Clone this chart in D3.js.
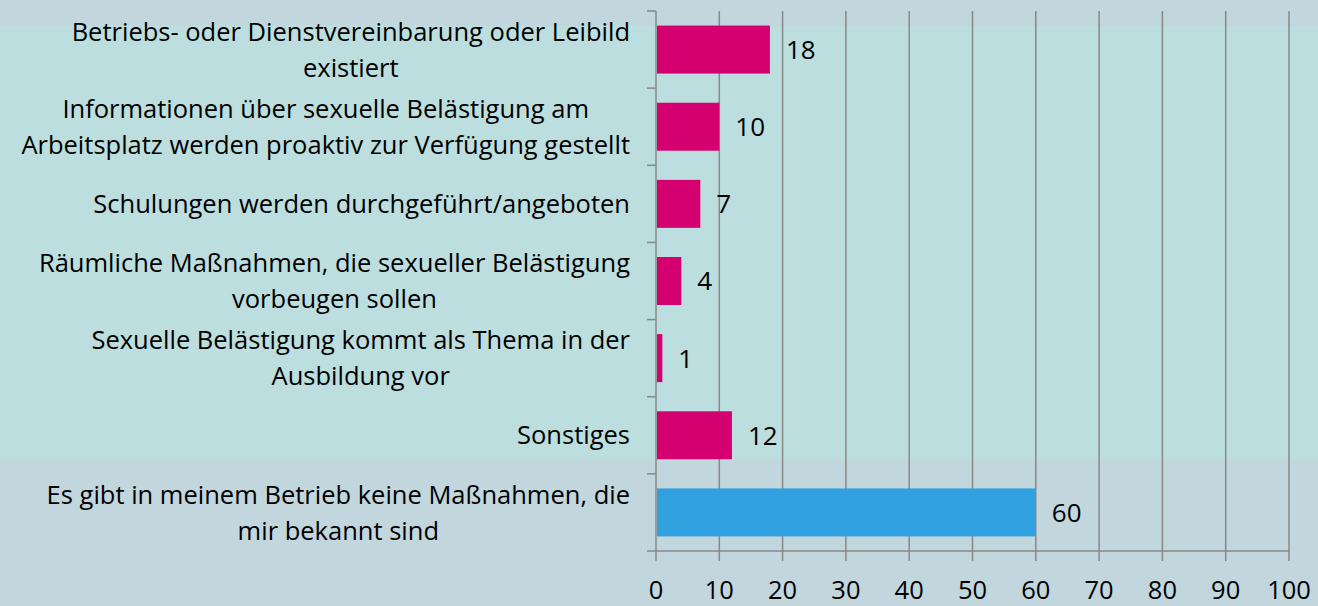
<!DOCTYPE html>
<html>
<head>
<meta charset="utf-8">
<script src="https://cdn.jsdelivr.net/npm/d3@7"></script>
<style>
    body { margin: 0; background: #c2d6de; }
    svg text { font-family: "Open Sans", "Noto Sans", sans-serif; fill: #000; }
</style>
</head>
<body>
<svg id="SVG_CONTAINER" width="1318" height="606"></svg>
<script>
// category labels, one array entry per line of the label
const categories = [
    ["Betriebs- oder Dienstvereinbarung oder Leibild", "existiert"],
    ["Informationen über sexuelle Belästigung am", "Arbeitsplatz werden proaktiv zur Verfügung gestellt"],
    ["Schulungen werden durchgeführt/angeboten"],
    ["Räumliche Maßnahmen, die sexueller Belästigung", "vorbeugen sollen"],
    ["Sexuelle Belästigung kommt als Thema in der", "Ausbildung vor"],
    ["Sonstiges"],
    ["Es gibt in meinem Betrieb keine Maßnahmen, die", "mir bekannt sind"]
];
const values = [18, 10, 7, 4, 1, 12, 60];
const barColours = ["#d5006f", "#d5006f", "#d5006f", "#d5006f", "#d5006f", "#d5006f", "#31a0de"];
const xTicks = [0, 10, 20, 30, 40, 50, 60, 70, 80, 90, 100];

const MARGIN = {
    "LEFT": 656,
    "RIGHT": 29,
    "TOP": 11,
    "BOTTOM": 55,
};
const width = 1318,
    height = 606;

let svg = d3.select("#SVG_CONTAINER");
let ids = d3.range(categories.length);

//** SCALES *****************************************
let xScale = d3.scaleLinear()
    .domain([0, 100])
    .range([MARGIN.LEFT, width - MARGIN.RIGHT]);

let yScale = d3.scaleBand()
    .domain(ids)
    .range([MARGIN.TOP, height - MARGIN.BOTTOM])
    .paddingInner(0.378)
    .paddingOuter(0.189);

let step = yScale.step();
let yTop = MARGIN.TOP, yBottom = height - MARGIN.BOTTOM;

//highlighted background band behind the first six bars
svg.append("rect")
    .attr("x", 0)
    .attr("y", yScale(0))
    .attr("width", width)
    .attr("height", yScale(5) + yScale.bandwidth() - yScale(0))
    .attr("fill", "#bcdedf");

//** GRID *****************************************
let grid = svg.append("g").attr("class", "grid");
grid.selectAll("line")
    .data(xTicks)
    .enter()
    .append("line")
    .attr("x1", d => xScale(d))
    .attr("x2", d => xScale(d))
    .attr("y1", yTop)
    .attr("y2", yBottom + 10)
    .attr("stroke", "#898989")
    .attr("stroke-width", 1.5);

//category ticks on the left
grid.selectAll(".ytick")
    .data(d3.range(categories.length + 1))
    .enter()
    .append("line")
    .attr("class", "ytick")
    .attr("x1", MARGIN.LEFT - 9)
    .attr("x2", MARGIN.LEFT)
    .attr("y1", d => yTop + d * step)
    .attr("y2", d => yTop + d * step)
    .attr("stroke", "#898989")
    .attr("stroke-width", 1.5);

//x axis line
svg.append("line")
    .attr("x1", xScale(0))
    .attr("x2", xScale(100))
    .attr("y1", yBottom)
    .attr("y2", yBottom)
    .attr("stroke", "#898989")
    .attr("stroke-width", 1.5);

//** BARS *****************************************
svg.append("g")
    .attr("class", "bars")
    .selectAll("rect")
    .data(ids)
    .enter()
    .append("rect")
    .attr("x", xScale(0) + 1)
    .attr("y", d => yScale(d))
    .attr("width", d => xScale(values[d]) - xScale(0) - 1)
    .attr("height", yScale.bandwidth())
    .attr("fill", d => barColours[d]);

//value labels
svg.append("g")
    .attr("class", "values")
    .selectAll("text")
    .data(ids)
    .enter()
    .append("text")
    .attr("x", d => xScale(values[d]) + 16)
    .attr("y", d => yScale(d) + yScale.bandwidth() / 2)
    .attr("dy", "0.36em")
    .style("font-size", "26px")
    .text(d => values[d]);

//** AXIS LABELS *****************************************
svg.append("g")
    .attr("class", "x_labels")
    .selectAll("text")
    .data(xTicks)
    .enter()
    .append("text")
    .attr("x", d => xScale(d))
    .attr("y", yBottom + 48)
    .attr("text-anchor", "middle")
    .style("font-size", "25.5px")
    .text(d => d);

//category labels: centred block, right edge at labelRight
const labelRight = 630;
const lineHeight = 36;
let labels = svg.append("g").attr("class", "y_labels");
ids.forEach(function (i) {
    let lines = categories[i];
    let cy = yScale(i) + yScale.bandwidth() / 2;
    let g = labels.append("g");
    let texts = lines.map(function (line, k) {
        return g.append("text")
            .attr("y", cy + (k - (lines.length - 1) / 2) * lineHeight)
            .attr("dy", "0.36em")
            .attr("text-anchor", "middle")
            .style("font-size", "25.5px")
            .text(line);
    });
    let maxW = d3.max(texts, t => t.node().getComputedTextLength());
    texts.forEach(t => t.attr("x", labelRight - maxW / 2));
});
</script>
</body>
</html>
